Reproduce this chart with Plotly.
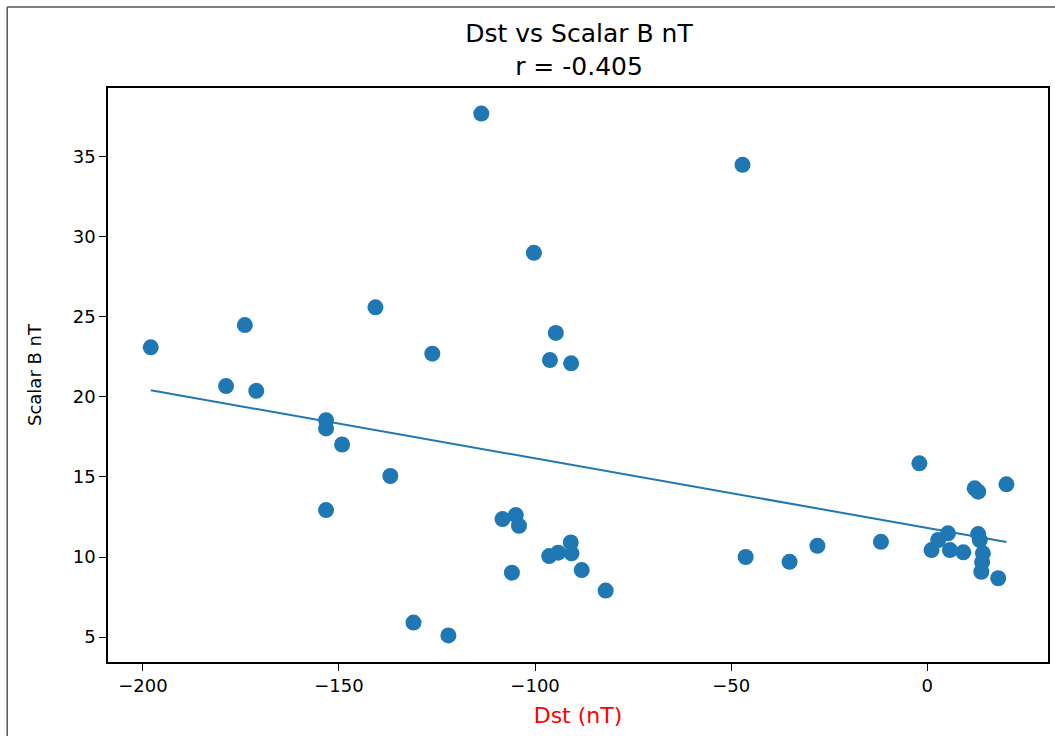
import numpy as np
import plotly.graph_objects as go

dst = [-198.0, -178.8, -174.0, -171.1, -153.3, -153.3, -153.3, -149.2, -140.7, -136.9,
       -131.0, -126.2, -122.1, -113.7, -108.3, -104.9, -104.1, -105.9, -100.3, -96.2,
       -96.4, -94.7, -94.1, -90.8, -90.9, -90.7, -88.1, -82.0, -47.1, -46.3,
       -35.1, -28.0, -11.8, -2.0, 1.1, 2.8, 5.3, 5.8, 9.2, 12.1,
       13.0, 13.0, 13.4, 14.2, 14.0, 13.8, 18.1, 20.2]
scalar_b = [23.1, 20.68, 24.49, 20.38, 18.55, 18.03, 12.93, 17.03, 25.6, 15.06,
            5.9, 22.7, 5.1, 37.7, 12.37, 12.62, 11.95, 9.02, 29.0, 22.3,
            10.06, 24.0, 10.27, 22.1, 10.91, 10.23, 9.18, 7.9, 34.5, 10.0,
            9.7, 10.7, 10.95, 15.85, 10.43, 11.06, 11.48, 10.43, 10.29, 14.29,
            14.08, 11.43, 11.06, 10.23, 9.67, 9.08, 8.67, 14.54]

title_text = "Dst vs Scalar B nT<br>r = -0.405"
x_label = "Dst (nT)"
y_label = "Scalar B nT"
x_ticks = [-200, -150, -100, -50, 0]
y_ticks = [5, 10, 15, 20, 25, 30, 35]

xa = np.array(dst)
ya = np.array(scalar_b)
slope, intercept = np.polyfit(xa, ya, 1)
fit_x = np.array([xa.min(), xa.max()])
fit_y = slope * fit_x + intercept

blue = "#1f77b4"
font_family = "DejaVu Sans"

fig = go.Figure()
fig.add_trace(go.Scatter(x=dst, y=scalar_b, mode="markers",
                         marker=dict(color=blue, size=16, line=dict(width=0)),
                         showlegend=False))
fig.add_trace(go.Scatter(x=fit_x, y=fit_y, mode="lines",
                         line=dict(color=blue, width=2), showlegend=False))

L, R, T, B = 108, 5, 88, 74
W, H = 1055, 736
pw, ph = W - L - R, H - T - B

def px(x):
    return (x - L) / pw

def py(y):
    return (H - B - y) / ph

fig.update_layout(
    width=W, height=H,
    margin=dict(l=L, r=R, t=T, b=B),
    paper_bgcolor="white", plot_bgcolor="white",
    font=dict(family=font_family, color="black"),
    title=dict(text=title_text, x=(L + (W - R)) / 2 / W, xanchor="center",
               y=1 - 42 / H, yanchor="top", font=dict(size=25, color="black")),
    xaxis=dict(range=[-208.9, 30.8], tickvals=x_ticks,
               ticktext=["\u2212200", "\u2212150", "\u2212100", "\u221250", "0"],
               showgrid=False, zeroline=False, showline=True, linecolor="black",
               linewidth=1.5, mirror=True, ticks="outside", ticklen=7,
               tickcolor="black", tickwidth=1.2, tickfont=dict(size=18),
               title=dict(text=x_label, font=dict(size=22, color="red"), standoff=12)),
    yaxis=dict(range=[3.44, 39.3], tickvals=y_ticks,
               showgrid=False, zeroline=False, showline=True, linecolor="black",
               linewidth=1.5, mirror=True, ticks="outside", ticklen=7,
               tickcolor="black", tickwidth=1.2, tickfont=dict(size=18),
               title=dict(text=y_label, font=dict(size=18, color="black"), standoff=26)),
    shapes=[
        dict(type="line", xref="paper", yref="paper", x0=px(7), x1=px(7), y0=py(7), y1=py(740),
             line=dict(color="#555555", width=1.5)),
        dict(type="line", xref="paper", yref="paper", x0=px(7), x1=px(1060), y0=py(7), y1=py(7),
             line=dict(color="#555555", width=1.5)),
    ],
)

fig.write_html("out.html")
